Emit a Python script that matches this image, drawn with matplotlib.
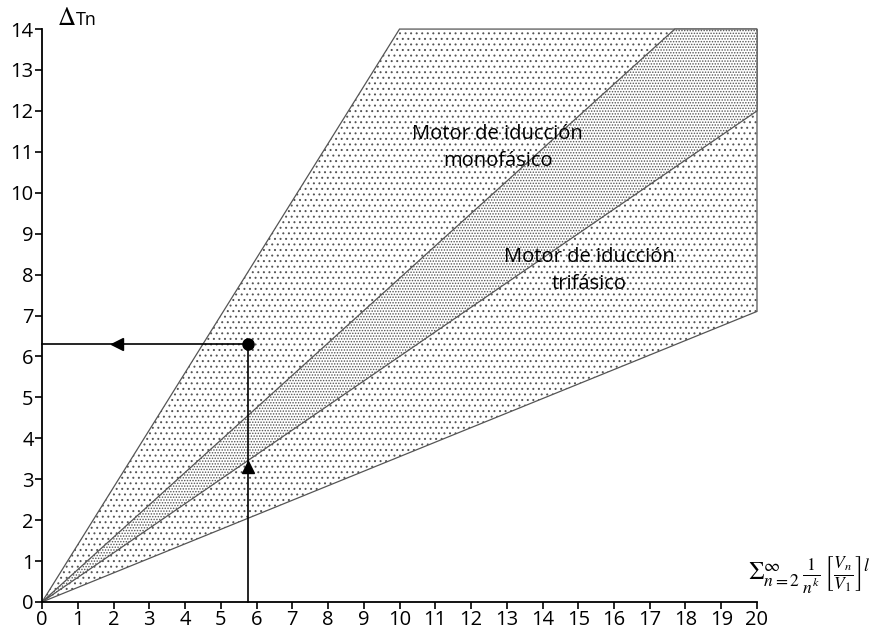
import matplotlib
matplotlib.use('Agg')
import matplotlib.pyplot as plt
from matplotlib.patches import Polygon

plt.rcParams['font.family'] = ['Open Sans', 'DejaVu Sans']
plt.rcParams['mathtext.fontset'] = 'stix'
plt.rcParams['hatch.color'] = '#444444'
plt.rcParams['hatch.linewidth'] = 0.7

# outer region (both motor types)
outer_x = [0, 10, 20, 20]
outer_y = [0, 14, 14, 7.1]
# inner, denser band
band_x = [0, 17.7, 20, 20]
band_y = [0, 14, 14, 12]
# reading example
point_x = 5.75
point_y = 6.3
arrow_up_y = 3.3
arrow_left_x = 2.1

x_ticks = list(range(0, 21))
y_ticks = list(range(0, 15))

fig = plt.figure(figsize=(8.79, 6.32), dpi=100)
ax = fig.add_axes([0.0478, 0.0475, 0.8134, 0.9065])

outer = Polygon(list(zip(outer_x, outer_y)), closed=True, facecolor='white',
                edgecolor='#555555', hatch='...', linewidth=0.9, clip_on=False)
ax.add_patch(outer)
band = Polygon(list(zip(band_x, band_y)), closed=True, facecolor='white',
               edgecolor='#555555', hatch='......', linewidth=0.9, clip_on=False)
ax.add_patch(band)

# reading lines
ax.plot([point_x, point_x], [0, point_y], color='black', lw=1.2, clip_on=False)
ax.plot([0, point_x], [point_y, point_y], color='black', lw=1.2, clip_on=False)
ax.plot(point_x, point_y, 'o', color='black', ms=8, clip_on=False)
ax.plot(point_x, arrow_up_y, '^', color='black', ms=9)
ax.plot(arrow_left_x, point_y, '<', color='black', ms=8)

ax.text(12.75, 11.1, 'Motor de iducción\nmonofásico', ha='center', va='center',
        ma='center', fontsize=14.5, linespacing=1.45)
ax.text(15.3, 8.1, 'Motor de iducción\ntrifásico', ha='center', va='center',
        ma='center', fontsize=14.5, linespacing=1.45)

ax.set_xlim(0, 20)
ax.set_ylim(0, 14)
ax.set_xticks(x_ticks)
ax.set_yticks(y_ticks)
ax.tick_params(direction='out', length=5, width=1.2, labelsize=14.5, pad=1)
for s in ['top', 'right']:
    ax.spines[s].set_visible(False)
for s in ['left', 'bottom']:
    ax.spines[s].set_linewidth(1.3)

fig.text(57/879, 1 - 25/632, r'$\Delta$', fontsize=18, va='baseline')
fig.text(76/879, 1 - 25/632, 'Tn', fontsize=13, va='baseline')
fig.text(748/879, 1 - 575/632,
         r'$\Sigma_{n=2}^{\infty}\,\frac{1}{n^k}\,\left[\frac{V_n}{V_1}\right]^{l}$',
         fontsize=18, va='center', ha='left')

fig.savefig('out.png', dpi=100)
